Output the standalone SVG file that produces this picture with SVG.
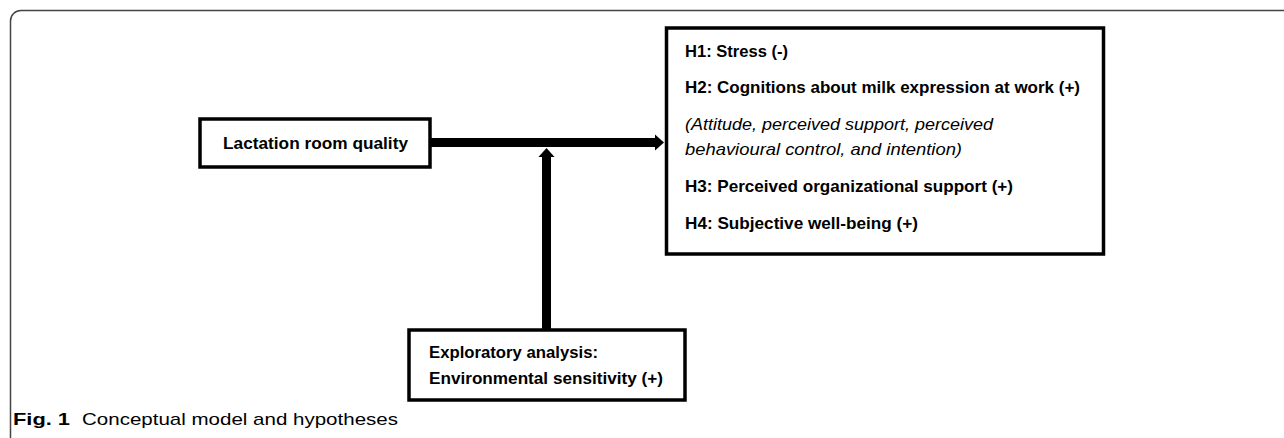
<svg xmlns="http://www.w3.org/2000/svg" width="1284" height="438" viewBox="0 0 1284 438">
<style>
.box{fill:#fff;stroke:#000;stroke-width:3.5}
.t{font-family:"Liberation Sans",Arial,sans-serif;font-size:17px;font-weight:bold;fill:#000}
.i{font-family:"Liberation Sans",Arial,sans-serif;font-size:17px;font-style:italic;fill:#000}
.cap{font-family:"Liberation Sans",Arial,sans-serif;font-size:17px;fill:#000}
.conn{stroke:#000;stroke-width:9;fill:none}
</style>
<defs>
<marker id="ah" markerUnits="userSpaceOnUse" markerWidth="20" markerHeight="20" refX="0" refY="10" orient="auto">
<path d="M0,2 L9,10 L0,18 Z" fill="#000"/>
</marker>
</defs>
<rect width="1284" height="438" fill="#fff"/>
<path d="M10.5 438 V21 A10.5 10.5 0 0 1 21 10.5 H1284" fill="none" stroke="#444" stroke-width="1.5"/>
<g id="connectors">
<line class="conn" x1="430" y1="142.5" x2="655" y2="142.5" marker-end="url(#ah)"/>
<line class="conn" x1="546.5" y1="329" x2="546.5" y2="157" marker-end="url(#ah)"/>
</g>
<g id="node-lactation">
<rect class="box" x="200" y="119" width="230" height="48"/>
<text class="t" x="223" y="149" textLength="185" lengthAdjust="spacingAndGlyphs">Lactation room quality</text>
</g>
<g id="node-outcomes">
<rect class="box" x="666.5" y="28" width="437" height="226"/>
<text class="t" x="685" y="57" textLength="103" lengthAdjust="spacingAndGlyphs">H1: Stress (-)</text>
<text class="t" x="685" y="93" textLength="395" lengthAdjust="spacingAndGlyphs">H2: Cognitions about milk expression at work (+)</text>
<text class="i" x="685" y="130" textLength="308" lengthAdjust="spacingAndGlyphs">(Attitude, perceived support, perceived</text>
<text class="i" x="685" y="155" textLength="277" lengthAdjust="spacingAndGlyphs">behavioural control, and intention)</text>
<text class="t" x="685" y="192" textLength="328" lengthAdjust="spacingAndGlyphs">H3: Perceived organizational support (+)</text>
<text class="t" x="685" y="229" textLength="233" lengthAdjust="spacingAndGlyphs">H4: Subjective well-being (+)</text>
</g>
<g id="node-exploratory">
<rect class="box" x="409" y="330" width="276" height="70"/>
<text class="t" x="429" y="358" textLength="169" lengthAdjust="spacingAndGlyphs">Exploratory analysis:</text>
<text class="t" x="429" y="384" textLength="234" lengthAdjust="spacingAndGlyphs">Environmental sensitivity (+)</text>
</g>
<g id="caption">
<text class="cap" x="13" y="425"><tspan font-weight="bold" textLength="57" lengthAdjust="spacingAndGlyphs">Fig. 1</tspan><tspan x="82" textLength="316" lengthAdjust="spacingAndGlyphs">Conceptual model and hypotheses</tspan></text>
</g>
</svg>
